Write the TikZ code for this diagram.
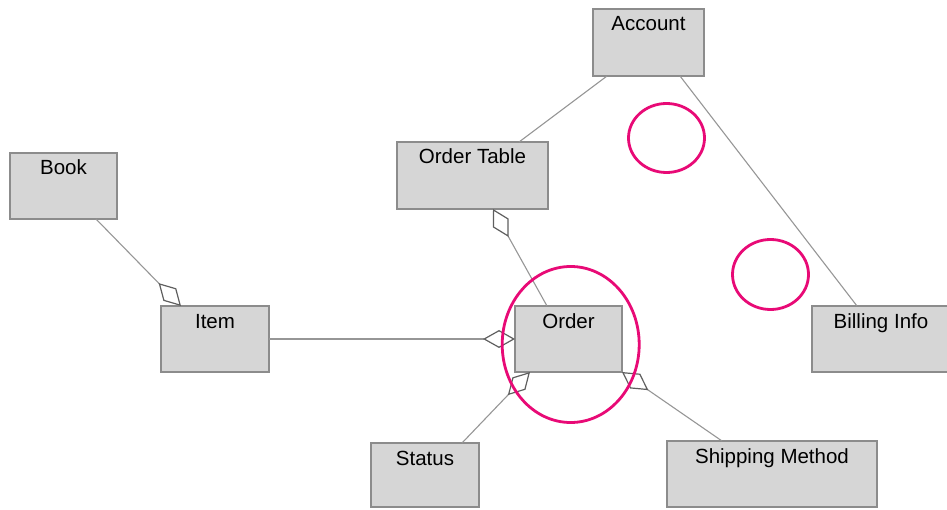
\documentclass[tikz,border=0pt]{standalone}
\usepackage{fontspec}
\setmainfont{Liberation Sans}
\usetikzlibrary{arrows.meta,calc}
\definecolor{boxfill}{RGB}{214,214,214}
\definecolor{boxline}{RGB}{140,140,140}
\definecolor{wire}{RGB}{150,150,150}
\definecolor{tipline}{RGB}{95,95,95}
\definecolor{mark}{RGB}{232,10,118}
\tikzset{
  classbox/.style={draw=boxline, fill=boxfill, line width=1.4pt, inner sep=0pt, outer sep=0pt},
  lbl/.style={anchor=base, yshift=-22pt, inner sep=0pt, text=black,
              font=\fontsize{20.5}{24}\selectfont},
  wireline/.style={draw=wire, line width=1.1pt},
  agg/.style={wireline, -{Diamond[open, length=32pt, width=18pt, line width=1.2pt, color=tipline]}},
  ring/.style={draw=mark, line width=2.8pt}
}
\begin{document}
\begin{tikzpicture}[x=1pt, y=-1pt]
\useasboundingbox (0,0) rectangle (947,510);

% class boxes
\node[classbox, minimum width=111pt, minimum height=67pt, label={[lbl]north:Account}] (acc) at (648.5,42.5) {};
\node[classbox, minimum width=151pt, minimum height=67pt, label={[lbl]north:Order Table}] (otab) at (472.5,175.5) {};
\node[classbox, minimum width=107pt, minimum height=66pt, label={[lbl]north:Book}] (book) at (63.5,186) {};
\node[classbox, minimum width=108pt, minimum height=66pt, label={[lbl]north:Item}] (item) at (215,339) {};
\node[classbox, minimum width=107pt, minimum height=66pt, label={[lbl]north:Order}] (order) at (568.5,339) {};
\node[classbox, minimum width=138pt, minimum height=66pt, label={[lbl]north:Billing Info}] (bill) at (881,339) {};
\node[classbox, minimum width=108pt, minimum height=64pt, label={[lbl]north:Status}] (status) at (425,475) {};
\node[classbox, minimum width=210pt, minimum height=66pt, label={[lbl]north:Shipping Method}] (ship) at (772,474) {};

% plain associations
\draw[wireline] ($(acc.south west)+(14,0)$) -- ($(otab.north west)+(122,0)$);
\draw[wireline] ($(acc.south west)+(87,0)$) -- ($(bill.north west)+(45,0)$);

% aggregations (open diamond at the whole)
\draw[agg] ($(book.south west)+(86,0)$) -- ($(item.north west)+(20,0)$);
\draw[agg] (item.east) -- (order.west);
\draw[agg] ($(order.north west)+(32,0)$) -- ($(otab.south west)+(96,0)$);
\draw[agg] ($(status.north west)+(91,0)$) -- ($(order.south west)+(15,0)$);
\draw[agg] ($(ship.north west)+(55,0)$) -- (order.south east);

% highlight rings
\draw[ring] (570.7,344.5) ellipse [x radius=68.5pt, y radius=78pt];
\draw[ring] (666.5,138) ellipse [x radius=38pt, y radius=34.5pt];
\draw[ring] (770.5,274.5) ellipse [x radius=38pt, y radius=35pt];
\end{tikzpicture}
\end{document}
